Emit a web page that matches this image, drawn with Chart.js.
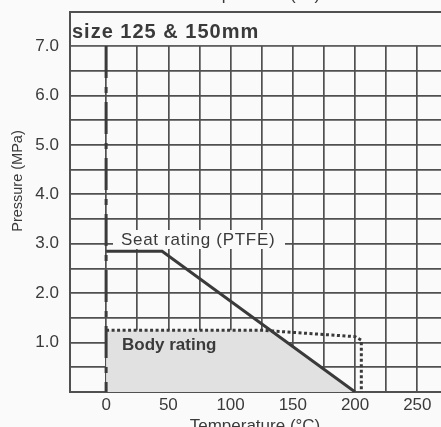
<!DOCTYPE html>
<html>
<head>
<meta charset="utf-8">
<script src="https://cdn.jsdelivr.net/npm/chart.js@4.4.1/dist/chart.umd.min.js"></script>
<style>
  html, body { margin: 0; padding: 0; background: #fafafa; }
  canvas { display: block; }
</style>
</head>
<body>
<canvas id="myChart" width="441" height="427"></canvas>
<script>
// pressure / temperature rating, size 125 & 150mm
const seatTemp = [0, 45, 200];
const seatPress = [2.85, 2.85, 0];

const bodyTemp = [0, 125, 200, 205, 205];
const bodyPress = [1.25, 1.25, 1.12, 1.05, 0];

// minimum temperature limit line
const limitTemp = [0, 0];
const limitPress = [7.0, 0];

const tempTicks = [0, 25, 50, 75, 100, 125, 150, 175, 200, 225, 250];
const pressTicks = [0, 0.5, 1.0, 1.5, 2.0, 2.5, 3.0, 3.5, 4.0, 4.5, 5.0, 5.5, 6.0, 6.5, 7.0];

const ink = '#3a3a3a';
const gridInk = '#505050';
const shade = '#e1e1e1';
const font = '"Liberation Sans", Arial, sans-serif';

function toPoints(xs, ys) {
  return xs.map((x, i) => ({ x: x, y: ys[i] }));
}

function valueAt(xs, ys, x) {
  for (let i = 0; i < xs.length - 1; i++) {
    if (x >= xs[i] && x <= xs[i + 1] && xs[i + 1] > xs[i]) {
      return ys[i] + (ys[i + 1] - ys[i]) * (x - xs[i]) / (xs[i + 1] - xs[i]);
    }
  }
  return ys[ys.length - 1];
}

// shaded region = lower of the seat and body curves
function lowerEnvelope() {
  const end = seatTemp[seatTemp.length - 1];
  const xs = [...new Set([...seatTemp, ...bodyTemp])].filter(x => x <= end).sort((a, b) => a - b);
  const pts = [];
  for (let i = 0; i < xs.length; i++) {
    const s = valueAt(seatTemp, seatPress, xs[i]);
    const b = valueAt(bodyTemp, bodyPress, xs[i]);
    pts.push({ x: xs[i], y: Math.min(s, b) });
    if (i < xs.length - 1) {
      const s1 = valueAt(seatTemp, seatPress, xs[i + 1]);
      const b1 = valueAt(bodyTemp, bodyPress, xs[i + 1]);
      const d0 = s - b, d1 = s1 - b1;
      if (d0 * d1 < 0) {
        const xc = xs[i] + d0 / (d0 - d1) * (xs[i + 1] - xs[i]);
        pts.push({ x: xc, y: valueAt(seatTemp, seatPress, xc) });
      }
    }
  }
  return pts;
}

const decorations = {
  id: 'decorations',
  beforeDatasetsDraw(chart) {
    const { ctx, chartArea: a, scales } = chart;
    const yTop = scales.y.getPixelForValue(7.0);
    ctx.save();
    // title strip above 7.0
    ctx.fillStyle = '#fafafa';
    ctx.fillRect(a.left + 1, a.top, a.right - a.left, yTop - a.top - 1);
    ctx.strokeStyle = gridInk;
    ctx.lineWidth = 2;
    ctx.beginPath();
    ctx.moveTo(a.left, a.top);
    ctx.lineTo(a.right, a.top);
    ctx.stroke();
    ctx.fillStyle = ink;
    ctx.font = 'bold 20px ' + font;
    ctx.letterSpacing = '1px';
    ctx.textBaseline = 'alphabetic';
    ctx.fillText('size 125 & 150mm', a.left + 2, 38);
    ctx.restore();
  },
  afterDatasetsDraw(chart) {
    const { ctx } = chart;
    ctx.save();
    ctx.textBaseline = 'alphabetic';

    ctx.fillStyle = '#fafafa';
    ctx.fillRect(113, 230, 172, 19);
    ctx.fillStyle = ink;
    ctx.font = '17px ' + font;
    ctx.letterSpacing = '0.7px';
    ctx.fillText('Seat rating (PTFE)', 121, 245);

    ctx.fillStyle = shade;
    ctx.fillRect(113, 334, 108, 21);
    ctx.fillStyle = ink;
    ctx.font = 'bold 17px ' + font;
    ctx.letterSpacing = '0px';
    ctx.fillText('Body rating', 122, 350);

    // axis titles
    ctx.font = '17px ' + font;
    ctx.textAlign = 'center';
    ctx.fillText('Temperature (\u00B0C)', 255, 431);
    ctx.fillText('Temperature (\u00B0C)', 255, -0.5);

    ctx.font = '14.5px ' + font;
    ctx.translate(18, 181);
    ctx.rotate(-Math.PI / 2);
    ctx.textBaseline = 'middle';
    ctx.fillText('Pressure (MPa)', 0, 0);
    ctx.restore();
  }
};

const ctx = document.getElementById('myChart').getContext('2d');

const myChart = new Chart(ctx, {
  type: 'line',
  data: {
    datasets: [
      {
        label: 'Seat rating (PTFE)',
        data: toPoints(seatTemp, seatPress),
        borderColor: ink,
        borderWidth: 3,
        pointRadius: 0,
        fill: false
      },
      {
        label: 'Body rating',
        data: toPoints(bodyTemp, bodyPress),
        borderColor: ink,
        borderWidth: 3,
        borderDash: [3, 2.5],
        pointRadius: 0,
        fill: false
      },
      {
        label: 'limit',
        data: toPoints(limitTemp, limitPress),
        borderColor: ink,
        borderWidth: 3,
        borderDash: [32, 9, 6, 9],
        pointRadius: 0,
        fill: false
      },
      {
        label: 'rated area',
        data: lowerEnvelope(),
        borderWidth: 0,
        backgroundColor: shade,
        pointRadius: 0,
        fill: 'origin'
      }
    ]
  },
  options: {
    responsive: false,
    devicePixelRatio: 1,
    animation: false,
    events: [],
    layout: { padding: { top: 12, left: 0, right: 0, bottom: 0 } },
    elements: { line: { tension: 0 } },
    plugins: { legend: { display: false }, tooltip: { enabled: false } },
    scales: {
      x: {
        type: 'linear',
        min: -29,
        max: 269,
        afterFit: (scale) => {
          scale.height = 35;
          scale.paddingLeft = 0;
          scale.paddingRight = 0;
        },
        afterBuildTicks: (scale) => { scale.ticks = tempTicks.map(v => ({ value: v })); },
        grid: { color: gridInk, lineWidth: 1.7, drawTicks: false },
        border: { color: gridInk, width: 2 },
        ticks: {
          padding: 3,
          color: ink,
          font: { family: font, size: 17 },
          maxRotation: 0,
          autoSkip: false,
          callback: (v) => (v % 50 === 0 ? String(v) : '')
        }
      },
      y: {
        type: 'linear',
        min: 0,
        max: 7.69,
        afterFit: (scale) => {
          scale.width = 70;
          scale.paddingTop = 0;
          scale.paddingBottom = 0;
        },
        afterBuildTicks: (scale) => { scale.ticks = pressTicks.map(v => ({ value: v })); },
        grid: { color: gridInk, lineWidth: 1.7, drawTicks: false },
        border: { color: gridInk, width: 2 },
        ticks: {
          padding: 11,
          color: ink,
          font: { family: font, size: 17 },
          autoSkip: false,
          callback: (v) => (v >= 1 && Number.isInteger(v) ? v.toFixed(1) : '')
        }
      }
    }
  },
  plugins: [decorations]
});
</script>
</body>
</html>
